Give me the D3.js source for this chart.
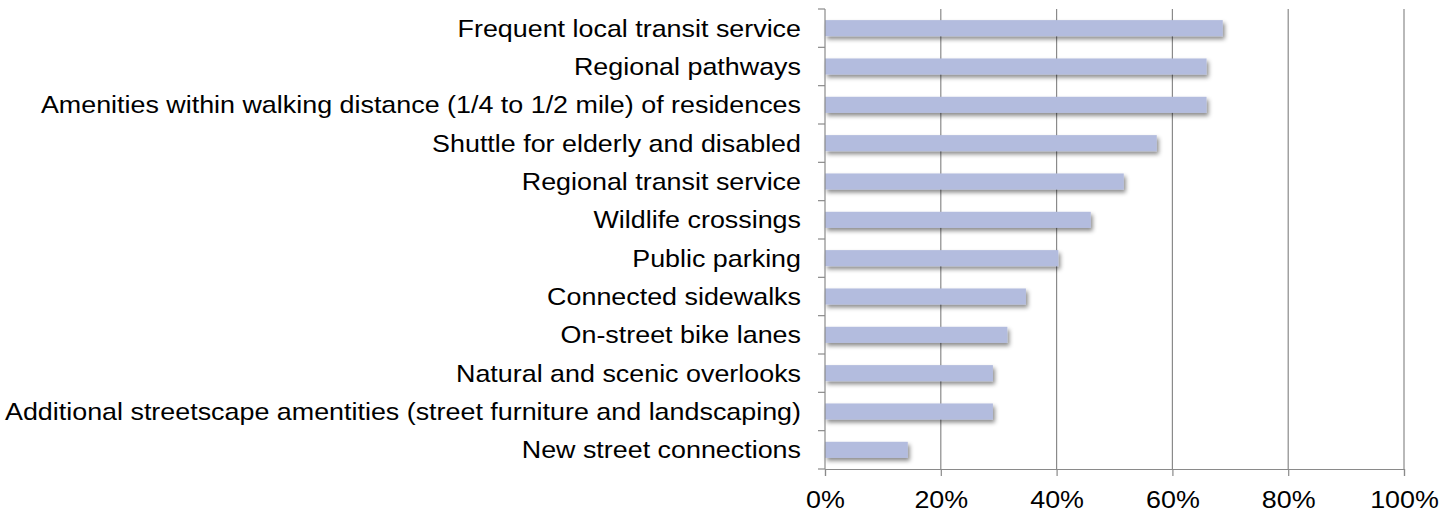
<!DOCTYPE html>
<html>
<head>
<meta charset="utf-8">
<script src="https://cdn.jsdelivr.net/npm/d3@7"></script>
<style>
  body { margin: 0; background: #fff; }
  text { font-family: "Liberation Sans", Arial, Helvetica, sans-serif; fill: #000; }
</style>
</head>
<body>
<script>
// categories top to bottom, values in percent
let categories = [
  'Frequent local transit service',
  'Regional pathways',
  'Amenities within walking distance (1/4 to 1/2 mile) of residences',
  'Shuttle for elderly and disabled',
  'Regional transit service',
  'Wildlife crossings',
  'Public parking',
  'Connected sidewalks',
  'On-street bike lanes',
  'Natural and scenic overlooks',
  'Additional streetscape amentities (street furniture and landscaping)',
  'New street connections'
];
let values = [68.7, 65.9, 65.9, 57.3, 51.6, 45.9, 40.3, 34.7, 31.5, 29.0, 29.0, 14.3];
let xTicks = [0, 20, 40, 60, 80, 100];

let data = categories.map(function(c, i){ return {name: c, value: values[i]}; });

let margin = {top: 9, right: 50, bottom: 45, left: 825};
let width = 1454 - (margin.left + margin.right);
let height = 514 - (margin.top + margin.bottom);
let gridColor = '#8a8a8a';
let fontSize = 24;
let stretch = 1.12; // the original text is a bit wider than Arial

let xScale = d3.scaleLinear()
    .domain([0, 100])
    .range([0, width]);

let yScale = d3.scaleBand()
    .domain(categories)
    .range([0, height])
    .paddingInner(0.58)
    .paddingOuter(0.29);

// boundaries between categories, for the small ticks on the left axis
let edgeScale = d3.scaleLinear()
    .domain([0, categories.length])
    .range([0, height]);

let svg = d3.select('body').append('svg')
    .attr('width', 1454)
    .attr('height', 514);

let defs = svg.append('defs');
defs.append('filter')
    .attr('id', 'shadow')
    .attr('x', '-5%').attr('y', '-50%')
    .attr('width', '115%').attr('height', '250%')
  .append('feDropShadow')
    .attr('dx', 2)
    .attr('dy', 3)
    .attr('stdDeviation', 2)
    .attr('flood-color', '#000')
    .attr('flood-opacity', 0.45);

let g = svg.append('g')
    .attr('transform', 'translate(' + margin.left + ',' + margin.top + ')');

// vertical gridlines
g.selectAll('.grid')
    .data(xTicks.slice(1))
  .enter().append('line')
    .attr('class', 'grid')
    .attr('x1', function(d){ return xScale(d); })
    .attr('x2', function(d){ return xScale(d); })
    .attr('y1', 0)
    .attr('y2', height)
    .attr('stroke', gridColor)
    .attr('stroke-width', 1.2);

// bars
g.selectAll('.bar')
    .data(data)
  .enter().append('rect')
    .attr('class', 'bar')
    .attr('x', xScale(0))
    .attr('y', function(d){ return yScale(d.name); })
    .attr('width', function(d){ return xScale(d.value); })
    .attr('height', yScale.bandwidth())
    .attr('fill', '#b3bcde')
    .attr('filter', 'url(#shadow)');

// x axis
let xAxis = d3.axisBottom(xScale)
    .tickValues(xTicks)
    .tickSize(7)
    .tickPadding(15)
    .tickFormat(function(d){ return d + '%'; });

let xg = g.append('g')
    .attr('transform', 'translate(0,' + height + ')')
    .call(xAxis);
xg.select('.domain').attr('stroke', gridColor).attr('stroke-width', 1.2);
xg.selectAll('.tick line').attr('stroke', gridColor).attr('stroke-width', 1.2);
xg.selectAll('.tick text')
    .attr('font-size', fontSize)
    .attr('font-family', '"Liberation Sans", Arial, sans-serif')
    .attr('fill', '#000')
    .attr('transform', 'scale(' + stretch + ',1)');

// y axis line and ticks
g.append('line')
    .attr('x1', 0).attr('x2', 0)
    .attr('y1', 0).attr('y2', height)
    .attr('stroke', gridColor)
    .attr('stroke-width', 1.2);

g.selectAll('.ytick')
    .data(d3.range(categories.length + 1))
  .enter().append('line')
    .attr('class', 'ytick')
    .attr('x1', -7).attr('x2', 0)
    .attr('y1', function(d){ return edgeScale(d); })
    .attr('y2', function(d){ return edgeScale(d); })
    .attr('stroke', gridColor)
    .attr('stroke-width', 1.2);

// category labels
g.selectAll('.label')
    .data(data)
  .enter().append('text')
    .attr('class', 'label')
    .attr('transform', function(d){
      return 'translate(-24,' + (yScale(d.name) + yScale.bandwidth() / 2) + ') scale(' + stretch + ',1)';
    })
    .attr('dy', '0.35em')
    .attr('text-anchor', 'end')
    .attr('font-size', fontSize)
    .text(function(d){ return d.name; });
</script>
</body>
</html>
